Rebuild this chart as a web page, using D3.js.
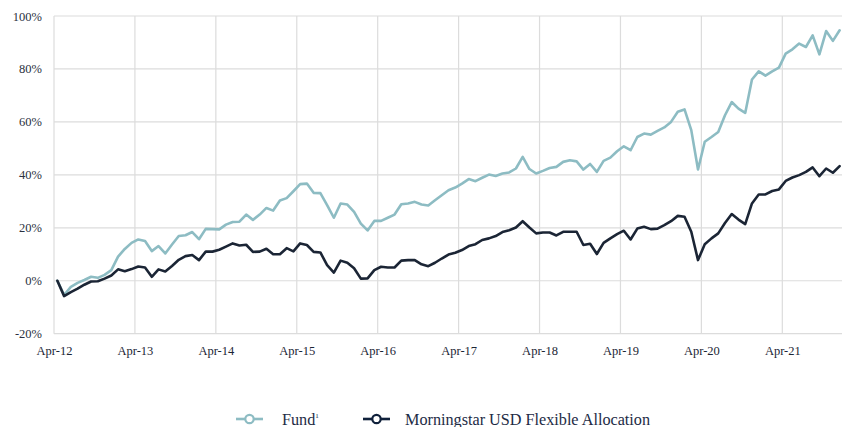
<!DOCTYPE html>
<html>
<head>
<meta charset="utf-8">
<script src="https://cdn.jsdelivr.net/npm/d3@7"></script>
<style>
  html, body { margin: 0; padding: 0; background: #ffffff; }
  svg { display: block; }
</style>
</head>
<body>
<svg id="chart" width="842" height="427"></svg>
<script>
// ---- Data (monthly, Apr-12 .. Dec-21) ----
const fundValues = [
  0, -5.4, -2.3, -0.8, 0.3, 1.5, 1.1, 2.2, 4.0, 9.1, 12.0, 14.3,
  15.6, 15.0, 11.2, 13.1, 10.3, 13.7, 16.9, 17.2, 18.4, 15.7, 19.6, 19.5,
  19.4, 21.2, 22.2, 22.3, 25.0, 23.0, 25.0, 27.5, 26.5, 30.3, 31.2, 33.8,
  36.5, 36.7, 33.2, 33.1, 28.6, 23.8, 29.2, 28.8, 26.0, 21.6, 19.0, 22.6,
  22.6, 23.8, 25.0, 28.9, 29.2, 29.8, 28.8, 28.4, 30.4, 32.3, 34.2, 35.2,
  36.7, 38.4, 37.6, 38.9, 40.1, 39.6, 40.5, 40.9, 42.4, 46.8, 42.2, 40.5,
  41.5, 42.6, 43.0, 44.9, 45.5, 45.1, 42.0, 44.1, 41.1, 45.3, 46.5, 48.9,
  50.8, 49.3, 54.3, 55.6, 55.2, 56.6, 57.9, 60.0, 63.8, 64.7, 56.9, 42.0,
  52.5, 54.3, 56.2, 62.5, 67.5, 65.0, 63.4, 76.0, 79.1, 77.5, 79.1, 80.5,
  85.8, 87.4, 89.6, 88.3, 92.7, 85.5, 94.3, 90.6, 94.6
];
const peerValues = [
  0, -5.8, -4.3, -3.0, -1.5, -0.3, -0.2, 0.8, 2.0, 4.3, 3.6, 4.4,
  5.4, 5.0, 1.5, 4.3, 3.5, 5.6, 7.9, 9.3, 9.7, 7.8, 11.0, 11.0,
  11.7, 12.9, 14.1, 13.3, 13.6, 10.9, 11.0, 12.1, 10.0, 10.0, 12.3, 11.1,
  14.1, 13.5, 10.9, 10.7, 5.9, 3.1, 7.6, 6.8, 4.7, 0.8, 0.9, 4.0,
  5.3, 5.0, 5.0, 7.6, 7.8, 7.8, 6.2, 5.5, 6.8, 8.4, 9.9, 10.6,
  11.6, 13.1, 13.8, 15.4, 16.0, 16.9, 18.4, 19.1, 20.1, 22.5, 20.1, 17.9,
  18.2, 18.2, 17.1, 18.5, 18.5, 18.5, 13.5, 14.0, 10.1, 14.3, 16.0, 17.6,
  18.9, 15.6, 19.7, 20.4, 19.5, 19.7, 21.0, 22.5, 24.5, 24.2, 18.5, 7.8,
  13.8, 16.0, 17.9, 21.8, 25.2, 23.1, 21.4, 29.2, 32.6, 32.6, 33.9, 34.5,
  37.7, 39.0, 39.9, 41.1, 42.8, 39.5, 42.4, 40.8, 43.3
];
const xTickLabels = ["Apr-12","Apr-13","Apr-14","Apr-15","Apr-16","Apr-17","Apr-18","Apr-19","Apr-20","Apr-21"];
const yTickValues = [-20, 0, 20, 40, 60, 80, 100];
const seriesNames = ["Fund", "Morningstar USD Flexible Allocation"];

(function () {
// ---- Layout ----
const svg = d3.select("#chart");
const W = 842;
const plotL = 54, plotR = 843, plotT = 16, plotB = 333.7;
const fundColor = "#8dbcc3";
const peerColor = "#1b2535";
const gridColor = "#dcdcdc";
const serif = "'Liberation Serif', 'DejaVu Serif', serif";

const x = d3.scaleLinear().domain([0, 117]).range([plotL, plotR]);
const y = d3.scaleLinear().domain([-20, 100]).range([plotB, plotT]);

// ---- Grid ----
const gGrid = svg.append("g");
gGrid.selectAll("line.h").data(yTickValues).enter().append("line")
  .attr("x1", plotL).attr("x2", W)
  .attr("y1", d => y(d)).attr("y2", d => y(d))
  .attr("stroke", gridColor).attr("stroke-width", 1.2);
gGrid.selectAll("line.v").data(xTickLabels).enter().append("line")
  .attr("x1", (d, i) => x(i * 12)).attr("x2", (d, i) => x(i * 12))
  .attr("y1", y(100)).attr("y2", y(-20))
  .attr("stroke", gridColor).attr("stroke-width", 1.2);

// ---- Axis labels ----
const yAxis = d3.axisLeft(y).tickValues(yTickValues).tickSize(0).tickPadding(12)
  .tickFormat(d => d + "%");
const gy = svg.append("g").attr("transform", `translate(${plotL},0)`).call(yAxis);
gy.select(".domain").remove();
gy.selectAll("text").attr("font-family", serif)
  .attr("font-size", 12.5).attr("fill", "#2a3140");

const xAxis = d3.axisBottom(x).tickValues(xTickLabels.map((d, i) => i * 12)).tickSize(0).tickPadding(12)
  .tickFormat((d) => xTickLabels[d / 12]);
const gx = svg.append("g").attr("transform", `translate(0,${plotB})`).call(xAxis);
gx.select(".domain").remove();
gx.selectAll("text").attr("font-family", serif)
  .attr("font-size", 12.5).attr("fill", "#1b2535");

// ---- Lines ----
const line = d3.line().x((d, i) => x(i + 0.5)).y(d => y(d)).curve(d3.curveLinear);
svg.append("path").datum(fundValues).attr("d", line)
  .attr("fill", "none").attr("stroke", fundColor).attr("stroke-width", 2.6)
  .attr("stroke-linejoin", "round").attr("stroke-linecap", "round");
svg.append("path").datum(peerValues).attr("d", line)
  .attr("fill", "none").attr("stroke", peerColor).attr("stroke-width", 2.6)
  .attr("stroke-linejoin", "round").attr("stroke-linecap", "round");

// ---- Legend ----
const legend = svg.append("g").attr("transform", "translate(0,419)");
const items = [
  { name: seriesNames[0], color: fundColor, lx: 236, tx: 282, sup: "1" },
  { name: seriesNames[1], color: "#10213b", lx: 363, tx: 405, sup: null }
];
items.forEach(it => {
  legend.append("line").attr("x1", it.lx).attr("x2", it.lx + 27).attr("y1", 0).attr("y2", 0)
    .attr("stroke", it.color).attr("stroke-width", 2.6);
  legend.append("circle").attr("cx", it.lx + 13.5).attr("cy", 0).attr("r", 4.2)
    .attr("fill", "#fff").attr("stroke", it.color).attr("stroke-width", 2.2);
  const t = legend.append("text").attr("x", it.tx).attr("y", 5.5)
    .attr("font-family", serif)
    .attr("font-size", 16.2).attr("fill", "#1d2b45").text(it.name);
  if (it.sup) {
    t.append("tspan").attr("font-size", 7).attr("dy", -7).text(it.sup);
  }
});
})();
</script>
</body>
</html>
